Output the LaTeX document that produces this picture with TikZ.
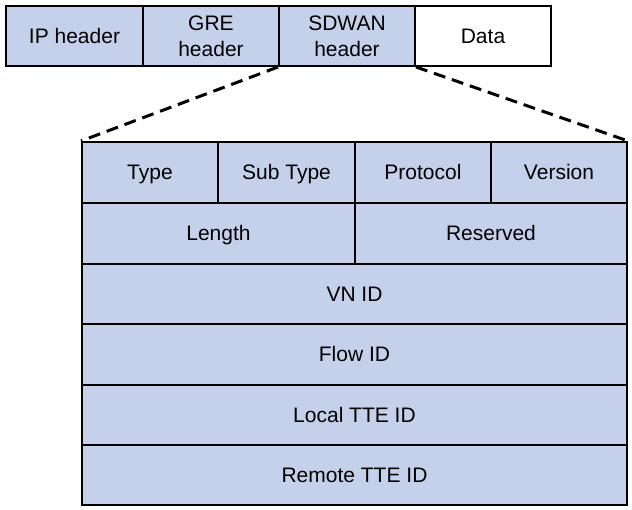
\documentclass[tikz,border=0pt]{standalone}
\usepackage{fontspec}
\setmainfont{Liberation Sans}
\definecolor{cellblue}{RGB}{197,209,235}
\begin{document}
\begin{tikzpicture}[x=1pt,y=-1pt,
  cell/.style={draw=black,line width=2pt,fill=cellblue,inner sep=0pt,anchor=north west,
    font=\fontsize{21}{26}\selectfont,text height=15pt,text depth=0pt},
  twoline/.style={cell,align=center,text height=,text depth=},
  plain/.style={cell,fill=white},
  zoomline/.style={draw=black,line width=3pt,dash pattern=on 12pt off 7pt}]
\useasboundingbox (0,0) rectangle (632,510);
% top packet
\node[cell,minimum width=137pt,minimum height=60pt] (ip) at (5,5) {IP header};
\node[twoline,minimum width=136pt,minimum height=60pt] (gre) at (142,5) {GRE\\header};
\node[twoline,minimum width=136pt,minimum height=60pt] (sdwan) at (278,5) {SDWAN\\header};
\node[plain,minimum width=136pt,minimum height=60pt] (data) at (414,5) {Data};
% SDWAN header detail
\node[cell,minimum width=136pt,minimum height=61pt] (type) at (81,141) {Type};
\node[cell,minimum width=137pt,minimum height=61pt] (subtype) at (217,141) {Sub Type};
\node[cell,minimum width=136pt,minimum height=61pt] (proto) at (354,141) {Protocol};
\node[cell,minimum width=136pt,minimum height=61pt] (ver) at (490,141) {Version};
\node[cell,minimum width=273pt,minimum height=61pt] (len) at (81,202) {Length};
\node[cell,minimum width=272pt,minimum height=61pt] (res) at (354,202) {Reserved};
\node[cell,minimum width=545pt,minimum height=60pt] (vn) at (81,263) {VN ID};
\node[cell,minimum width=545pt,minimum height=61pt] (flow) at (81,323) {Flow ID};
\node[cell,minimum width=545pt,minimum height=60pt] (ltte) at (81,384) {Local TTE ID};
\node[cell,minimum width=545pt,minimum height=60pt] (rtte) at (81,444) {Remote TTE ID};
% zoom lines
\draw[zoomline] (sdwan.south west) -- (type.north west);
\draw[zoomline] (sdwan.south east) -- (ver.north east);
\end{tikzpicture}
\end{document}
